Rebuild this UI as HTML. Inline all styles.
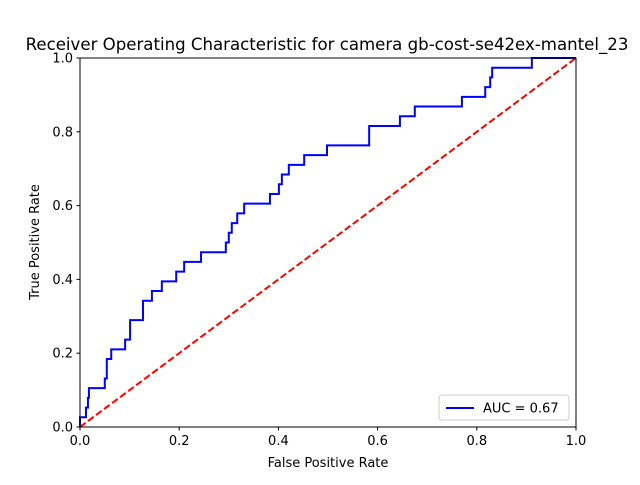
<!DOCTYPE html>
<html><head><meta charset="utf-8"><style>
body{margin:0;background:#fff}
svg{font-family:"DejaVu Sans","Liberation Sans",sans-serif}
</style></head><body>
<svg id="chart" width="640" height="480" xmlns="http://www.w3.org/2000/svg">
<rect width="640" height="480" fill="#fff"/>
<text x="327" y="50" font-size="16.6" text-anchor="middle">Receiver Operating Characteristic for camera gb-cost-se42ex-mantel_23</text>
<g id="ticks"></g>
<g id="plot"></g>
<rect x="80" y="58" width="496" height="369" fill="none" stroke="#000" stroke-width="1"/>
<text x="328" y="467" font-size="13" text-anchor="middle">False Positive Rate</text>
<text x="39" y="242" font-size="13" text-anchor="middle" transform="rotate(-90 39 242)">True Positive Rate</text>
<g>
<rect x="439" y="395" width="130" height="25" rx="3" fill="#fff" stroke="#ccc"/>
<line x1="446" y1="408" x2="474" y2="408" stroke="#0000ff" stroke-width="2"/>
<text x="483" y="412.5" font-size="13">AUC = 0.67</text>
</g>
</svg>
<script>
const fpr=[0,0,0.012,0.016,0.018,0.050,0.054,0.063,0.091,0.101,0.127,0.145,0.165,0.194,0.210,0.244,0.294,0.300,0.306,0.317,0.331,0.383,0.401,0.407,0.421,0.452,0.498,0.583,0.645,0.675,0.770,0.817,0.827,0.831,0.911,1];
const tprCount=[0,1,2,3,4,5,7,8,9,11,13,14,15,16,17,18,19,20,21,22,23,24,25,26,27,28,29,31,32,33,34,35,36,37,38,38];
const positives=38;
const tickLabels=["0.0","0.2","0.4","0.6","0.8","1.0"];
const tickValues=[0,0.2,0.4,0.6,0.8,1.0];
const L=80,R=576,T=58,B=427;
const sx=v=>L+v*(R-L), sy=v=>B-v*(B-T);
const NS="http://www.w3.org/2000/svg";
const ticks=document.getElementById('ticks'), plot=document.getElementById('plot');
function mk(tag,attrs,parent){const e=document.createElementNS(NS,tag);for(const k in attrs)e.setAttribute(k,attrs[k]);parent.appendChild(e);return e;}
tickValues.forEach((v,i)=>{
  let l=mk('line',{x1:sx(v),x2:sx(v),y1:B,y2:B+3.5,stroke:'#000'},ticks);
  
  
  let t=mk('text',{x:sx(v),y:B+18,'font-size':13,'text-anchor':'middle'},ticks);t.textContent=tickLabels[i];
  
  
  let l2=mk('line',{x1:L-3.5,x2:L,y1:sy(v),y2:sy(v),stroke:'#000'},ticks);
  
  
  let t2=mk('text',{x:L-7,y:sy(v)+4.5,'font-size':13,'text-anchor':'end'},ticks);t2.textContent=tickLabels[i];
  
  
});
let d='M'+sx(fpr[0])+' '+sy(tprCount[0]/positives);
for(let i=1;i<fpr.length;i++){d+=' L'+sx(fpr[i])+' '+sy(tprCount[i-1]/positives)+' L'+sx(fpr[i])+' '+sy(tprCount[i]/positives);}
let p=mk('path',{d:d,fill:'none',stroke:'#0000ff','stroke-width':2},plot);


let dg=mk('line',{x1:sx(0),y1:sy(0),x2:sx(1),y2:sy(1),stroke:'#ff0000','stroke-width':2,'stroke-dasharray':'7,3'},plot);


</script>
</body></html>
